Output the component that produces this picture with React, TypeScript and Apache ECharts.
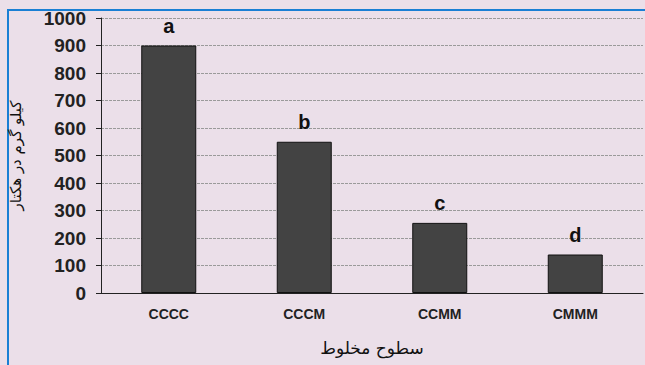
import React, { useEffect, useRef } from "react";
import * as echarts from "echarts";

const categories = ["CCCC", "CCCM", "CCMM", "CMMM"];
const values = [900, 550, 255, 140];
const letters = ["a", "b", "c", "d"];
const yTicks = { min: 0, max: 1000, interval: 100 };
const xName = "سطوح مخلوط";
const yName = "كيلو گرم در هكتار";

export default function App() {
  const ref = useRef<HTMLDivElement>(null);
  useEffect(() => {
    if (!ref.current) return;
    const chart = echarts.init(ref.current, null, { renderer: "svg" });
    chart.setOption({
      animation: false,
      backgroundColor: "#ebdfe9",
      grid: { left: 99, right: 2, top: 18, bottom: 72 },
      graphic: [
        { type: "line", shape: { x1: 8, y1: 10, x2: 8, y2: 365 }, style: { stroke: "#1a7fd4", lineWidth: 2 } },
        { type: "line", shape: { x1: 7, y1: 10, x2: 645, y2: 10 }, style: { stroke: "#1a7fd4", lineWidth: 2 } },
      ],
      xAxis: {
        type: "category",
        data: categories,
        axisLine: { lineStyle: { color: "#222", width: 1 } },
        axisTick: { show: false },
        axisLabel: { color: "#222", fontFamily: "Liberation Sans", fontWeight: "bold", fontSize: 14, margin: 14 },
        name: xName,
        nameLocation: "middle",
        nameGap: 46,
        nameTextStyle: { color: "#111", fontFamily: "DejaVu Sans", fontSize: 17 },
      },
      yAxis: {
        type: "value",
        min: yTicks.min,
        max: yTicks.max,
        interval: yTicks.interval,
        axisLine: { show: true, lineStyle: { color: "#222", width: 1 } },
        axisTick: { show: true, length: 5, lineStyle: { color: "#222" } },
        splitLine: { lineStyle: { color: "#9a9a9a", width: 1, type: [3, 1] } },
        axisLabel: {
          color: "#222",
          fontFamily: "Liberation Sans",
          fontWeight: "bold",
          fontSize: 19,
          margin: 15,
          formatter: (v: number) => String(v),
        },
        name: yName,
        nameLocation: "middle",
        nameRotate: 90,
        nameGap: 78,
        nameTextStyle: { color: "#111", fontFamily: "DejaVu Sans", fontSize: 15 },
      },
      series: [
        {
          type: "bar",
          data: values,
          barWidth: 55,
          itemStyle: { color: "#434343", borderColor: "#111", borderWidth: 1 },
          label: {
            show: true,
            position: "top",
            distance: 10,
            formatter: (p: any) => letters[p.dataIndex],
            color: "#111",
            fontFamily: "Liberation Sans",
            fontWeight: "bold",
            fontSize: 20,
          },
        },
      ],
    });
    return () => chart.dispose();
  }, []);
  return (
    <div
      ref={ref}
      style={{ position: "fixed", left: 0, top: 0, width: 645, height: 365 }}
    />
  );
}
